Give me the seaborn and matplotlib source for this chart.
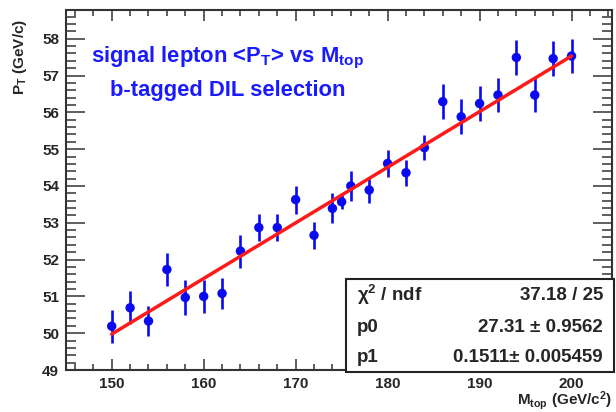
import numpy as np
import pandas as pd
import matplotlib
matplotlib.use("Agg")
import matplotlib.pyplot as plt
from matplotlib.ticker import MultipleLocator
from matplotlib.patches import Rectangle
import seaborn as sns

# ---- data ----
mtop = [150, 152, 154, 156, 158, 160, 162, 164, 166, 168, 170, 172, 174, 175,
        176, 178, 180, 182, 184, 186, 188, 190, 192, 194, 196, 198, 200]
pt = [50.19, 50.69, 50.33, 51.73, 50.97, 51.00, 51.08, 52.23, 52.87, 52.87,
      53.63, 52.66, 53.39, 53.57, 54.00, 53.89, 54.61, 54.36, 55.04, 56.29,
      55.88, 56.24, 56.47, 57.49, 56.47, 57.46, 57.53]
pt_err = [0.45, 0.45, 0.41, 0.45, 0.47, 0.45, 0.43, 0.45, 0.36, 0.36,
          0.38, 0.37, 0.41, 0.20, 0.40, 0.35, 0.36, 0.35, 0.34, 0.47,
          0.48, 0.48, 0.46, 0.47, 0.47, 0.47, 0.45]
p0, p1 = 27.31, 0.1511
fit_range = [150, 200]
stats_labels = ["χ$^2$ / ndf", "p0", "p1"]
stats_values = ["37.18 / 25", "27.31 ± 0.9562", "0.1511± 0.005459"]

df = pd.DataFrame({"mtop": mtop, "pt": pt, "err": pt_err})
fit_df = pd.DataFrame({"mtop": fit_range,
                       "pt": [p0 + p1 * x for x in fit_range]})

sns.set_style("white")
plt.rcParams["font.family"] = ["Liberation Sans", "DejaVu Sans"]
plt.rcParams["font.weight"] = "bold"
plt.rcParams["mathtext.fontset"] = "custom"
plt.rcParams["mathtext.rm"] = "Liberation Sans:bold"
plt.rcParams["mathtext.bf"] = "Liberation Sans:bold"
plt.rcParams["mathtext.it"] = "Liberation Sans:bold"
plt.rcParams["mathtext.default"] = "rm"

W, H = 616, 412
fig = plt.figure(figsize=(W / 100, H / 100), dpi=100)
L, R, T, B = 66, 612, 10, 370
ax = fig.add_axes([L / W, 1 - B / H, (R - L) / W, (B - T) / H])

blue = "#0a0af0"
ax.errorbar(df["mtop"], df["pt"], yerr=df["err"], fmt="none",
            ecolor=blue, elinewidth=1.9, capsize=0, zorder=2)
sns.scatterplot(data=df, x="mtop", y="pt", ax=ax, color=blue, s=46,
                edgecolor="none", zorder=3, legend=False)
sns.lineplot(data=fit_df, x="mtop", y="pt", ax=ax, color="#ff1a1a",
             linewidth=2.5, zorder=4)

ax.set_xlim(145.03, 204.4)
ax.set_ylim(49, 58.78)
ax.xaxis.set_major_locator(MultipleLocator(10))
ax.xaxis.set_minor_locator(MultipleLocator(2))
ax.yaxis.set_major_locator(MultipleLocator(1))
ax.yaxis.set_minor_locator(MultipleLocator(0.2))
ax.tick_params(axis="x", which="major", direction="in", length=8, width=1.1,
               top=True, bottom=True, labelsize=11, pad=5, color="#333333")
ax.tick_params(axis="x", which="minor", direction="in", length=4, width=1.1,
               top=True, bottom=True, color="#333333")
ax.tick_params(axis="y", which="major", direction="in", length=14, width=1.1,
               left=True, right=True, labelsize=11, pad=5, color="#333333")
ax.tick_params(axis="y", which="minor", direction="in", length=7, width=1.1,
               left=True, right=True, color="#333333")
for lab in ax.get_xticklabels() + ax.get_yticklabels():
    lab.set_fontweight("bold")
for sp in ax.spines.values():
    sp.set_linewidth(1.5)
    sp.set_color("#333333")
ax.set_xlabel("")
ax.set_ylabel("")

# axis titles
fig.text(R / W, 1 - 401 / H, "M$_{top}$ (GeV/c$^2$)", ha="right", va="center",
         fontsize=11, fontweight="bold")
fig.text(20 / W, 1 - 19 / H, "P$_T$ (GeV/c)", ha="center", va="top",
         rotation=90, fontsize=11, fontweight="bold")

# in-plot title
fig.text(227 / W, 1 - 62 / H, "signal lepton <P$_T$> vs M$_{top}$",
         ha="center", va="baseline", fontsize=15.8, fontweight="bold", color="#1a1aff")
fig.text(228 / W, 1 - 96 / H, "b-tagged DIL selection",
         ha="center", va="baseline", fontsize=15.8, fontweight="bold", color="#1a1aff")

# stats box
bx0, bx1, by0, by1 = 346, 614, 279, 372
fig.add_artist(Rectangle((bx0 / W, 1 - by1 / H), (bx1 - bx0) / W, (by1 - by0) / H,
                         transform=fig.transFigure, facecolor="white",
                         edgecolor="#222222", linewidth=1.5, zorder=10))
row_y = [295, 327, 357]
for lab, val, yy in zip(stats_labels, stats_values, row_y):
    fig.text(357 / W, 1 - yy / H, lab, ha="left", va="center", fontsize=13.5,
             fontweight="bold", zorder=11)
    fig.text(603 / W, 1 - yy / H, val, ha="right", va="center", fontsize=13.5,
             fontweight="bold", zorder=11)

fig.savefig("out.png", dpi=100)
